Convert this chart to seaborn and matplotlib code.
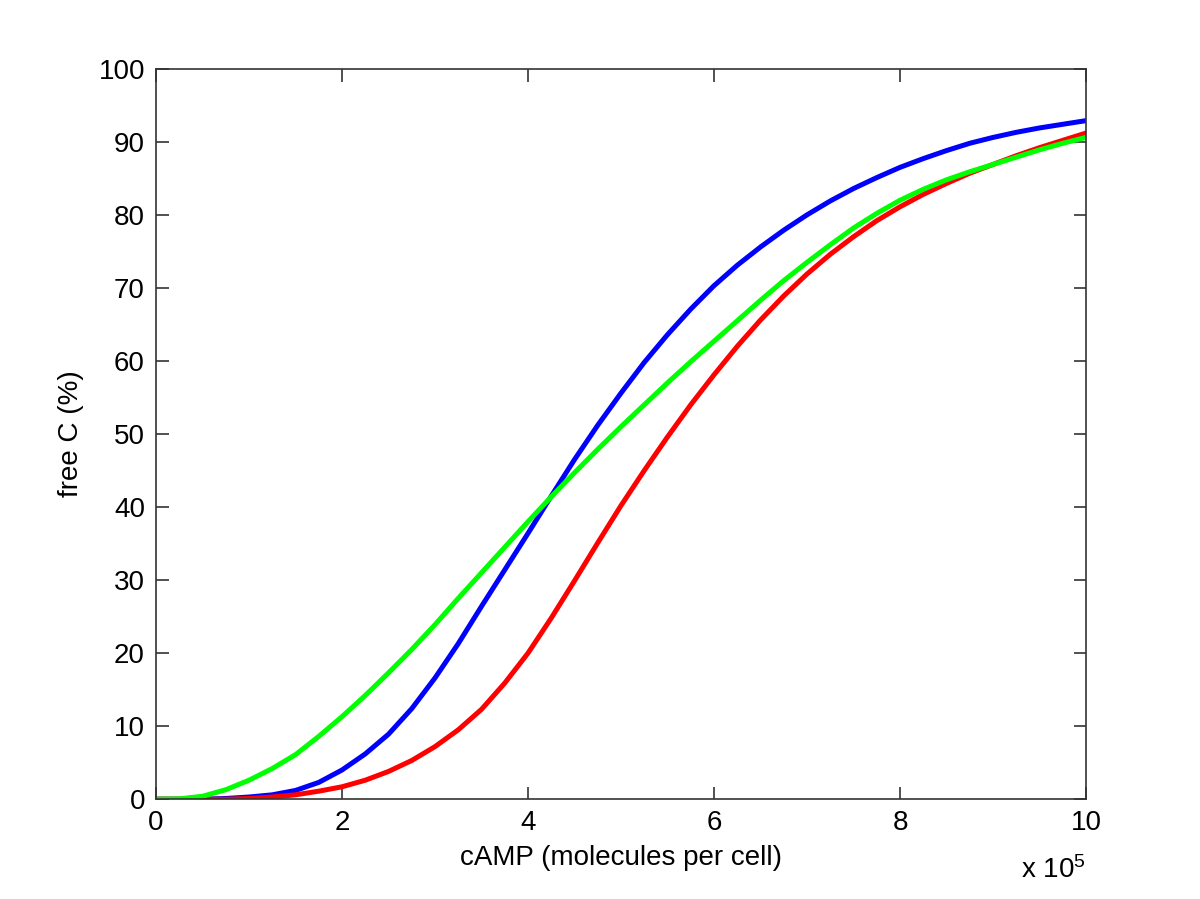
import numpy as np
import pandas as pd
import matplotlib
matplotlib.use("Agg")
import matplotlib.pyplot as plt
import seaborn as sns

# cAMP in units of 1e5 molecules per cell
camp = [0, 0.25, 0.5, 0.75, 1, 1.25, 1.5, 1.75, 2, 2.25, 2.5, 2.75, 3, 3.25,
        3.5, 3.75, 4, 4.25, 4.5, 4.75, 5, 5.25, 5.5, 5.75, 6, 6.25, 6.5,
        6.75, 7, 7.25, 7.5, 7.75, 8, 8.25, 8.5, 8.75, 9, 9.25, 9.5, 9.75, 10]

# free C (%)
free_blue = [0, 0, 0, 0.1, 0.3, 0.6, 1.2, 2.3, 4.0, 6.2, 8.9, 12.4, 16.6, 21.3,
             26.4, 31.4, 36.4, 41.5, 46.5, 51.2, 55.6, 59.8, 63.6, 67.1, 70.3,
             73.1, 75.6, 77.9, 80.0, 81.9, 83.6, 85.1, 86.5, 87.7, 88.8, 89.8,
             90.6, 91.3, 91.9, 92.4, 92.9]
free_red = [0, 0, 0, 0, 0.1, 0.3, 0.6, 1.1, 1.7, 2.6, 3.8, 5.3, 7.2, 9.5,
            12.3, 15.9, 20.0, 24.8, 29.9, 35.1, 40.2, 45.0, 49.6, 54.0, 58.1,
            62.0, 65.6, 68.9, 71.9, 74.6, 77.0, 79.2, 81.1, 82.8, 84.3, 85.7,
            86.9, 88.1, 89.2, 90.2, 91.2]
free_green = [0, 0.05, 0.4, 1.3, 2.6, 4.2, 6.1, 8.6, 11.3, 14.2, 17.3, 20.5,
              23.9, 27.5, 31.0, 34.5, 38.0, 41.4, 44.7, 47.9, 51.0, 54.0, 57.0,
              59.9, 62.7, 65.5, 68.3, 71.0, 73.5, 75.9, 78.2, 80.2, 82.0, 83.5,
              84.8, 85.9, 86.9, 87.9, 88.9, 89.8, 90.6]

df = pd.DataFrame({
    "camp": camp * 3,
    "free": free_blue + free_red + free_green,
    "curve": ["blue"] * len(camp) + ["red"] * len(camp) + ["green"] * len(camp),
})

sns.set_style("ticks")
plt.rcParams["font.family"] = ["Liberation Sans", "DejaVu Sans"]
plt.rcParams["mathtext.default"] = "regular"
plt.rcParams["text.color"] = "black"
plt.rcParams["axes.labelcolor"] = "black"
plt.rcParams["xtick.labelcolor"] = "black"
plt.rcParams["ytick.labelcolor"] = "black"

fig = plt.figure(figsize=(12, 8.99), dpi=100)
ax = fig.add_axes([0.13, 0.111, 0.775, 0.8125])

sns.lineplot(data=df, x="camp", y="free", hue="curve",
             palette={"blue": "#0000ff", "red": "#ff0000", "green": "#00ff00"},
             hue_order=["blue", "red", "green"],
             linewidth=3.6, legend=False, ax=ax)

ax.set_xlim(0, 10)
ax.set_ylim(0, 100)
ax.set_xticks(np.arange(0, 11, 2))
ax.set_yticks(np.arange(0, 101, 10))
ax.set_xlabel("cAMP (molecules per cell)", fontsize=20, labelpad=6)
ax.set_ylabel("free C (%)", fontsize=20, labelpad=10)

for s in ax.spines.values():
    s.set_visible(True)
    s.set_color("#333333")
    s.set_linewidth(1.2)
ax.tick_params(direction="in", length=9, width=1.2, color="#333333",
               labelsize=20, top=True, right=True, pad=8)

ax.text(1.0, -0.078, r"x $10^{5}$", transform=ax.transAxes,
        ha="right", va="top", fontsize=20)

fig.savefig("out.png", dpi=100, facecolor="white")
